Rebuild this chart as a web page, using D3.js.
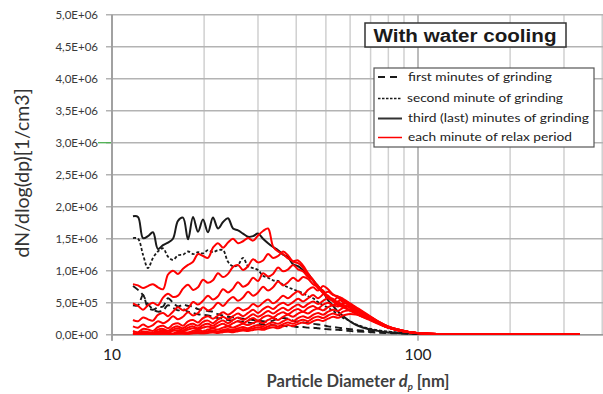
<!DOCTYPE html>
<html><head><meta charset="utf-8">
<script src="https://cdn.jsdelivr.net/npm/d3@7"></script>
<style>body{margin:0;background:#fff;} svg{display:block;}</style>
</head><body>
<svg id="c" width="603" height="394"></svg>
<script>
// ---------------- DATA ----------------
const diameters = [11.71,12.16,12.63,13.11,13.61,14.13,14.68,15.24,15.82,16.43,17.06,17.72,18.40,19.10,19.83,20.59,21.38,22.20,23.06,23.94,24.86,25.81,26.80,27.83,28.90,30.01,31.16,32.36,33.60,34.89,36.23,37.61,39.06,40.55,42.11,43.72,45.40,47.14,48.95,50.82,52.77,54.80,56.89,59.08,61.34,63.69,68.67,74.05,79.80,86.04,94.17,105.4,122.5,147.9,185.3,232.3,291.1,338.3];

// values in units of 1E+05 particles/cm3
const firstMinutesA = [4.6,4.6,6.2,4.2,3.9,4.3,4.4,5.7,5.0,4.4,4.7,4.5,4.4,4.0,3.9,3.7,3.6,3.2,3.0,2.8,2.7,2.6,2.5,2.4,2.3,2.2,2.1,2.0,2.2,2.5,2.6,2.5,2.2,2.0,1.9,1.8,1.7,1.6,1.5,1.3,1.2,1.1,1.0,0.9,0.8,0.7, 0.6,0.5,0.4,0.3,0.2,0.1,0.05,0.02,0.01,0,0,0];
const firstMinutesB = [7.6,7.0,6.2,4.8,4.0,3.6,3.8,4.6,4.2,3.8,4.0,3.6,3.4,3.2,3.1,3.0,2.8,2.6,2.5,2.3,2.2,2.1,2.0,1.9,1.8,1.7,1.6,1.5,1.5,1.4,1.4,1.3,1.3,1.2,1.2,1.1,1.1,1.0,0.9,0.85,0.8,0.75,0.7,0.6,0.55,0.5, 0.4,0.3,0.25,0.2,0.1,0.05,0.03,0.02,0.01,0,0,0];
const secondMinute = [15.1,15.0,12.5,10.4,12.0,13.0,13.5,12.2,11.7,12.4,12.5,13.0,12.6,12.9,12.7,13.2,12.9,13.2,13.2,11.4,10.7,10.9,12.0,10.7,10.4,10.1,9.2,8.9,8.5,8.4,7.8,7.4,7.1,6.8,6.5,6.0,5.7,5.1,4.6,4.2,3.7,3.2,2.6,2.3,1.8,1.5, 1.0,0.7,0.5,0.35,0.2,0.1,0.05,0.03,0.01,0,0,0];
const thirdMinute = [18.5,18.4,15.1,15.4,16.0,13.4,14.0,14.4,15.0,17.8,18.3,14.9,18.4,16.1,18.0,16.0,18.3,16.6,17.6,18.2,16.6,16.3,15.8,15.3,15.4,15.8,15.0,14.3,13.7,13.2,12.5,12.1,11.0,10.7,10.1,9.5,8.5,7.6,6.7,5.4,4.5,3.6,2.9,2.3,1.8,1.4, 0.9,0.6,0.35,0.25,0.15,0.08,0.04,0.02,0.01,0.01,0,0];

const relax1 = [7.9,7.7,7.3,7.6,7.9,7.4,7.1,9.4,10.0,9.5,10.3,10.9,11.4,12.6,12.3,12.0,13.6,14.3,13.6,14.4,15.0,14.3,14.6,15.1,14.7,15.5,16.2,16.6,13.8,13.0,12.6,11.9,11.5,11.6,10.8,9.6,8.5,7.6,6.7,5.9,5.2,4.6,4.3,3.9,3.5,3.1, 2.4,1.7,1.1,0.7,0.4,0.2,0.1,0.05,0.03,0.02,0.02,0.02];
const relax2 = [4.9,4.5,3.9,4.6,5.0,4.6,5.8,6.4,5.9,6.1,7.2,7.8,7.0,7.4,8.6,8.1,8.5,9.6,9.0,9.5,10.6,10.9,10.1,10.7,11.8,11.3,11.6,12.6,12.0,12.3,13.0,12.4,11.4,11.2,10.5,9.3,8.6,7.3,6.6,5.7,5.4,4.7,4.5,3.9,3.7,3.1, 2.5,1.8,1.1,0.7,0.4,0.2,0.1,0.05,0.03,0.02,0.02,0.02];
const relax3 = [2.3,2.1,2.7,2.4,2.2,3.1,3.4,2.9,3.6,4.3,3.8,4.1,5.1,4.7,5.3,6.1,5.5,6.0,7.1,6.6,7.2,8.2,7.5,7.9,8.9,8.4,9.6,9.1,9.5,10.5,9.9,10.2,10.9,10.2,9.9,9.0,8.5,7.3,6.9,5.8,5.6,4.8,4.7,4.0,3.9,3.2, 2.5,1.8,1.1,0.7,0.4,0.2,0.1,0.05,0.03,0.02,0.02,0.02];
const relax4 = [1.3,1.1,1.6,1.2,1.5,2.1,1.8,2.2,2.9,2.4,2.8,3.5,3.0,3.4,4.3,3.8,4.2,5.0,4.5,5.3,5.9,5.3,5.8,6.7,6.1,6.6,7.5,6.9,7.4,8.3,7.7,8.2,8.9,8.4,9.0,8.7,7.9,7.4,6.5,6.1,5.4,5.1,4.6,4.4,3.8,3.5, 2.6,1.8,1.1,0.7,0.4,0.2,0.1,0.05,0.03,0.02,0.02,0.02];
const relax5 = [0.6,0.4,0.9,0.8,0.6,1.2,1.4,1.0,1.6,1.8,1.4,2.1,2.3,1.9,2.6,2.9,2.5,3.0,3.5,3.1,3.6,4.2,3.8,4.1,4.8,4.4,5.0,5.5,4.9,5.4,6.1,5.7,6.3,6.8,6.2,7.0,7.4,6.9,7.6,7.1,6.3,5.8,5.1,4.7,4.0,3.6, 2.6,1.8,1.1,0.7,0.4,0.2,0.1,0.05,0.03,0.02,0.02,0.02];
const relax6 = [0.3,0.2,0.5,0.4,0.3,0.8,0.9,0.6,1.1,1.3,1.0,1.5,1.7,1.4,2.0,2.2,1.8,2.4,2.8,2.4,2.9,3.3,2.9,3.4,3.9,3.4,4.0,4.4,4.0,4.6,5.0,4.6,5.1,5.6,5.2,5.7,6.2,5.7,6.3,6.7,6.2,6.0,5.4,4.9,4.2,3.7, 2.7,1.9,1.2,0.7,0.4,0.2,0.1,0.05,0.03,0.02,0.02,0.02];
const relax7 = [0.2,0.1,0.3,0.4,0.2,0.5,0.7,0.4,0.8,1.0,0.7,1.1,1.3,1.0,1.5,1.7,1.4,1.9,2.2,1.8,2.3,2.7,2.3,2.7,3.2,2.8,3.2,3.7,3.3,3.8,4.2,3.8,4.3,4.7,4.3,4.8,5.2,4.8,5.3,5.7,5.3,5.9,5.6,5.1,4.4,3.9, 2.9,2.0,1.2,0.7,0.4,0.2,0.1,0.05,0.03,0.02,0.02,0.02];
const relax8 = [0.1,0.1,0.2,0.3,0.1,0.3,0.5,0.3,0.6,0.7,0.5,0.8,1.0,0.8,1.1,1.3,1.1,1.4,1.7,1.4,1.8,2.1,1.8,2.2,2.6,2.2,2.7,3.0,2.7,3.2,3.5,3.2,3.7,4.0,3.6,4.2,4.5,4.1,4.7,5.0,4.6,5.2,5.4,5.0,4.5,4.0, 3.0,2.0,1.2,0.7,0.4,0.2,0.1,0.05,0.03,0.02,0.02,0.02];
const relax9 = [0.05,0.1,0.05,0.2,0.15,0.1,0.3,0.25,0.2,0.45,0.4,0.35,0.6,0.7,0.55,0.8,0.95,0.8,1.1,1.3,1.1,1.4,1.7,1.5,1.8,2.1,1.8,2.3,2.6,2.3,2.8,3.1,2.8,3.3,3.6,3.3,3.8,4.1,3.8,4.3,4.6,4.4,4.9,5.0,4.6,4.1, 3.1,2.1,1.3,0.8,0.4,0.2,0.1,0.05,0.03,0.02,0.02,0.02];
const relax10 = [0.03,0.05,0.03,0.1,0.08,0.05,0.2,0.15,0.1,0.3,0.25,0.2,0.4,0.45,0.35,0.55,0.65,0.5,0.75,0.9,0.75,1.0,1.2,1.0,1.3,1.5,1.3,1.7,1.9,1.7,2.1,2.4,2.1,2.6,2.9,2.6,3.1,3.4,3.1,3.6,3.9,3.7,4.2,4.4,4.2,3.8, 3.0,2.1,1.3,0.8,0.4,0.2,0.1,0.05,0.03,0.02,0.02,0.02];
const relax11 = [0.02,0.04,0.02,0.06,0.05,0.04,0.12,0.1,0.08,0.2,0.18,0.15,0.28,0.32,0.25,0.4,0.46,0.38,0.55,0.65,0.55,0.75,0.9,0.78,1.0,1.15,1.0,1.3,1.5,1.3,1.65,1.9,1.7,2.1,2.35,2.1,2.6,2.85,2.6,3.0,3.3,3.1,3.6,3.8,3.7,3.5, 2.9,2.0,1.3,0.8,0.4,0.2,0.1,0.05,0.03,0.02,0.02,0.02];
const relax12 = [0.02,0.03,0.02,0.04,0.03,0.03,0.07,0.06,0.05,0.12,0.11,0.1,0.18,0.22,0.18,0.27,0.33,0.27,0.4,0.47,0.4,0.55,0.65,0.57,0.75,0.87,0.76,1.0,1.15,1.0,1.3,1.5,1.35,1.7,1.9,1.7,2.1,2.35,2.15,2.5,2.8,2.65,3.0,3.2,3.2,3.1, 2.7,1.9,1.2,0.8,0.4,0.2,0.1,0.05,0.03,0.02,0.02,0.02];

const yTickValues = [0,5e5,1e6,1.5e6,2e6,2.5e6,3e6,3.5e6,4e6,4.5e6,5e6];
const yTickLabels = ["0,0E+00","5,0E+05","1,0E+06","1,5E+06","2,0E+06","2,5E+06","3,0E+06","3,5E+06","4,0E+06","4,5E+06","5,0E+06"];
const xMajorTicks = [10,100];
const xMajorLabels = ["10","100"];
const xMinorTicks = [20,30,40,50,60,70,80,90,200,300,400];
const legendLabels = ["first minutes of grinding","second minute of grinding","third (last) minutes of grinding","each minute of relax period"];
const titleText = "With water cooling";

// ---------------- DRAW ----------------
const blackSeries = [
  {v: firstMinutesA, dash: "7,4", w: 1.9},
  {v: firstMinutesB, dash: "7,4", w: 1.9},
  {v: secondMinute, dash: "3,2", w: 1.8},
  {v: thirdMinute, dash: null, w: 2}
];
const redSeries = [relax1,relax2,relax3,relax4,relax5,relax6,relax7,relax8,relax9,relax10,relax11,relax12];
[...blackSeries.map(s=>s.v), ...redSeries].forEach((a,i)=>{ if(a.length!==diameters.length) throw new Error("length mismatch series "+i+": "+a.length); });

const svg = d3.select("#c");
const L = 112, R = 112 + 306*Math.log10(40), T = 14.7, B = 334.7;
const x = d3.scaleLog().domain([10,400]).range([L,R]);
const y = d3.scaleLinear().domain([0,5e6]).range([B,T]);

// vertical grid
svg.append("g").selectAll("line").data(xMinorTicks).join("line")
  .attr("x1",d=>x(d)).attr("x2",d=>x(d)).attr("y1",T).attr("y2",B)
  .attr("stroke","#d0d0d0").attr("stroke-width",1.5);
svg.append("g").selectAll("line").data(xMajorTicks).join("line")
  .attr("x1",d=>x(d)).attr("x2",d=>x(d)).attr("y1",T).attr("y2",B+6)
  .attr("stroke","#a6a6a6").attr("stroke-width",1.5);
// horizontal grid + ticks
svg.append("g").selectAll("line").data(yTickValues).join("line")
  .attr("x1",L-6).attr("x2",603).attr("y1",d=>y(d)).attr("y2",d=>y(d))
  .attr("stroke","#b3b3b3").attr("stroke-width",1.4);
// green tick artefact at 3,0E+06
svg.append("line").attr("x1",L-14).attr("x2",L-1).attr("y1",y(3e6)).attr("y2",y(3e6))
  .attr("stroke","#4caf50").attr("stroke-width",1.3);
// axes lines
svg.append("line").attr("x1",L).attr("x2",L).attr("y1",T).attr("y2",B+6).attr("stroke","#999").attr("stroke-width",1.5);
svg.append("line").attr("x1",L).attr("x2",603).attr("y1",B).attr("y2",B).attr("stroke","#999").attr("stroke-width",1.5);

// y tick labels
svg.append("g").selectAll("text").data(yTickValues).join("text")
  .attr("x",L-14).attr("y",d=>y(d)).attr("dy","0.35em").attr("text-anchor","end")
  .attr("font-family","Lato, 'Open Sans', sans-serif").attr("font-size",11.5).attr("fill","#3a3a3a")
  .text((d,i)=>yTickLabels[i]);
// x tick labels
svg.append("g").selectAll("text").data(xMajorTicks).join("text")
  .attr("x",d=>x(d)).attr("y",360).attr("text-anchor","middle")
  .attr("font-family","Lato, 'Open Sans', sans-serif").attr("font-size",15.5).attr("fill","#202020")
  .text((d,i)=>xMajorLabels[i]);

// axis titles
const xt = svg.append("text").attr("x",358).attr("y",387).attr("text-anchor","middle")
  .attr("font-family","Lato, 'Open Sans', sans-serif").attr("font-size",16.5).attr("font-weight","bold").attr("fill","#404040");
xt.append("tspan").text("Particle Diameter ");
xt.append("tspan").attr("font-style","italic").text("d");
xt.append("tspan").attr("font-style","italic").attr("font-size",9.5).attr("dy",3).text("p");
xt.append("tspan").attr("dy",-3).text(" [nm]");
svg.append("text").attr("transform","translate(29,173) rotate(-90)").attr("text-anchor","middle")
  .attr("font-family","Lato, 'Open Sans', sans-serif").attr("font-size",19.5).attr("fill","#333")
  .text("dN/dlog(dp)[1/cm3]");

// curves
svg.append("clipPath").attr("id","pc").append("rect").attr("x",L).attr("y",T-2).attr("width",R-L+2).attr("height",B-T+2);
const line = d3.line().x((d,i)=>x(diameters[i])).y(d=>y(d*1e5)).curve(d3.curveCatmullRom.alpha(0.5));
const gc = svg.append("g").attr("clip-path","url(#pc)");
gc.selectAll("path.blk").data(blackSeries).join("path").attr("class","blk")
  .attr("d",s=>line(s.v)).attr("fill","none").attr("stroke","#1a1a1a")
  .attr("stroke-width",s=>s.w).attr("stroke-dasharray",s=>s.dash).attr("stroke-linejoin","round");
gc.selectAll("path.red").data(redSeries).join("path").attr("class","red")
  .attr("d",v=>line(v)).attr("fill","none").attr("stroke","#ff0000")
  .attr("stroke-width",2).attr("stroke-linejoin","round");

// title box
svg.append("rect").attr("x",365).attr("y",23).attr("width",201).attr("height",24)
  .attr("fill","#fff").attr("stroke","#333").attr("stroke-width",1.5);
svg.append("text").attr("x",465).attr("y",41.5).attr("text-anchor","middle")
  .attr("font-family","'Liberation Sans', Arial, sans-serif").attr("font-weight","bold").attr("font-size",17.5)
  .attr("fill","#1a1a1a").attr("textLength",183).attr("lengthAdjust","spacingAndGlyphs").text(titleText);

// legend
svg.append("rect").attr("x",374).attr("y",68).attr("width",220).attr("height",79)
  .attr("fill","#fff").attr("stroke","#555").attr("stroke-width",1.2);
const legendStyles = [
  {c:"#1a1a1a", dash:"7,5", w:2},
  {c:"#1a1a1a", dash:"2.5,1.5", w:1.5},
  {c:"#333", dash:null, w:2},
  {c:"#ff0000", dash:null, w:1.5}
];
const legendRowY = [77,98.5,118.5,137.5];
const legendWidths = [144,156,181,164];
const lg = svg.append("g").selectAll("g").data(legendLabels).join("g");
lg.append("line").attr("x1",378).attr("x2",402).attr("y1",(d,i)=>legendRowY[i]).attr("y2",(d,i)=>legendRowY[i])
  .attr("stroke",(d,i)=>legendStyles[i].c).attr("stroke-width",(d,i)=>legendStyles[i].w)
  .attr("stroke-dasharray",(d,i)=>legendStyles[i].dash);
lg.append("text").attr("x",(d,i)=> i===1 ? 407 : 408).attr("y",(d,i)=>legendRowY[i]).attr("dy","0.33em")
  .attr("font-family","Lato, 'Open Sans', sans-serif").attr("font-size",12).attr("fill","#222")
  .attr("textLength",(d,i)=>legendWidths[i]).attr("lengthAdjust","spacingAndGlyphs")
  .text(d=>d);
</script>
</body></html>
